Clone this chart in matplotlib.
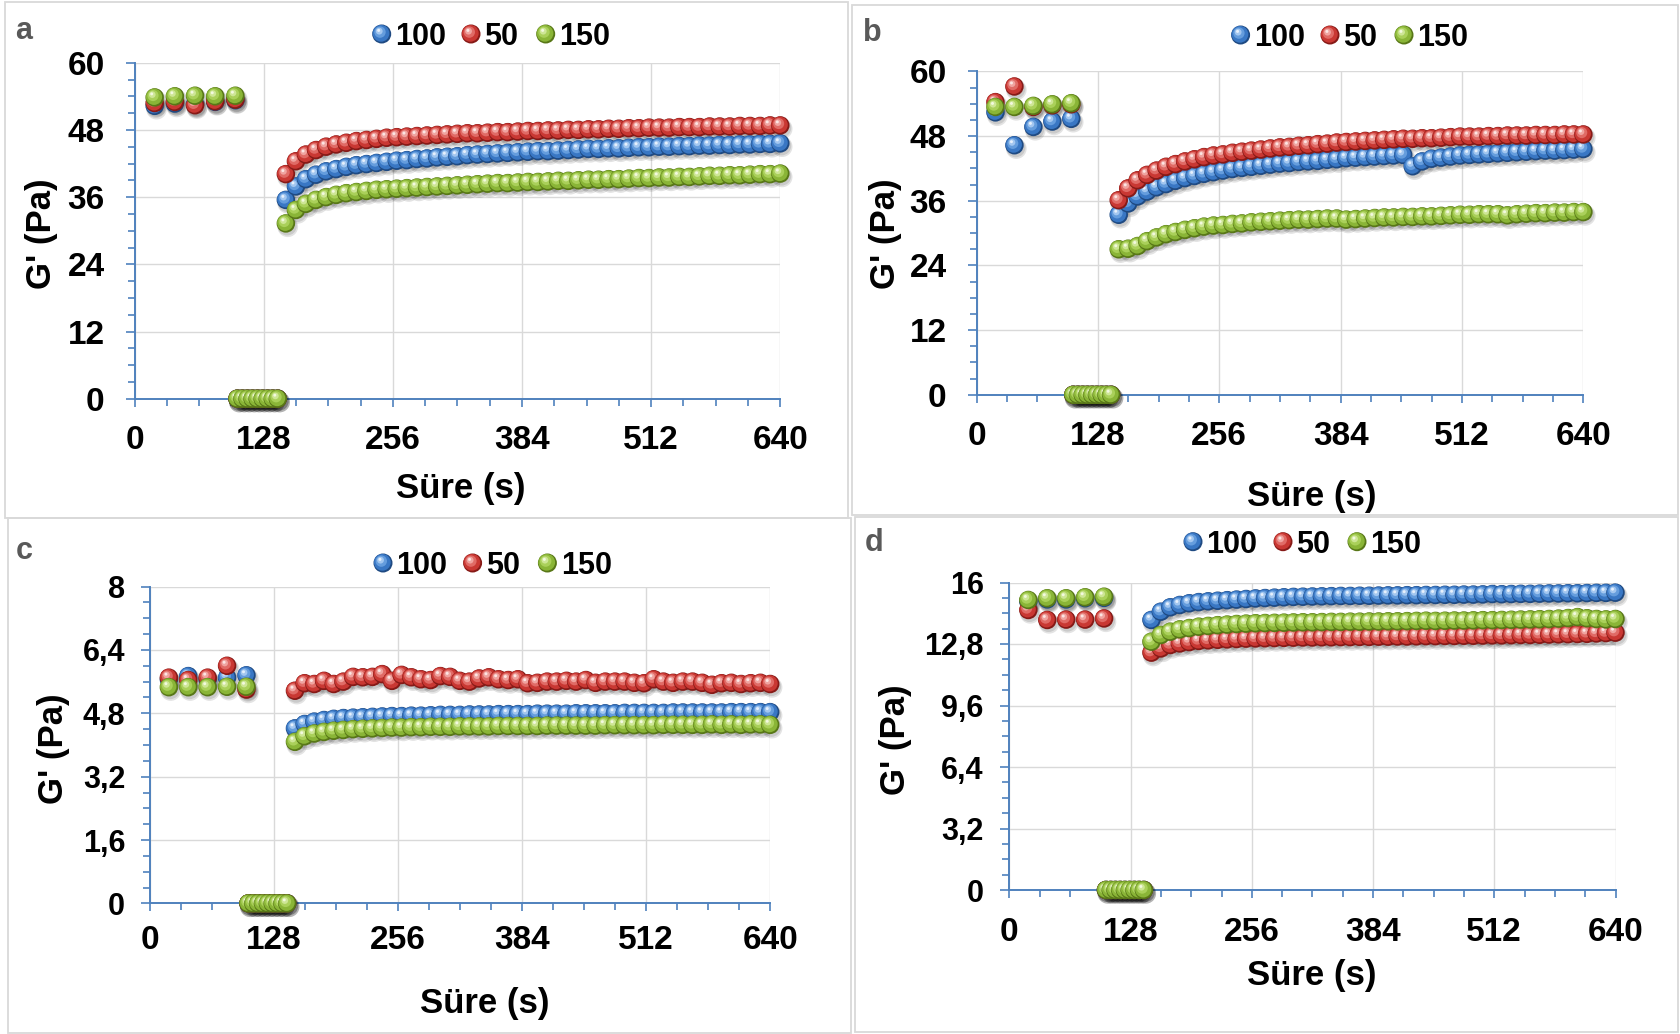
import numpy as np
import matplotlib
matplotlib.use("Agg")
import matplotlib.pyplot as plt
from matplotlib.path import Path
from matplotlib.patches import Rectangle
from matplotlib.ticker import MultipleLocator, FuncFormatter

plt.rcParams['font.family'] = ['Liberation Sans', 'DejaVu Sans']
plt.rcParams['font.weight'] = 'bold'

W, H = 1680, 1034

# ---- sampling times (s) ----
t_rest = [20, 40, 60, 80, 100]
t_shear = [102, 107, 112, 117, 122, 127, 132, 137, 142]
t_recovery = [150, 160, 170, 180, 190, 200, 210, 220, 230, 240,
              250, 260, 270, 280, 290, 300, 310, 320, 330, 340,
              350, 360, 370, 380, 390, 400, 410, 420, 430, 440,
              450, 460, 470, 480, 490, 500, 510, 520, 530, 540,
              550, 560, 570, 580, 590, 600, 610, 620, 630, 640]

series_names = ['100', '50', '150']
shear_G = [0, 0, 0, 0, 0, 0, 0, 0, 0]

# ---- panel a ----
a_rest_100 = [52.3, 52.7, 52.6, 53.0, 53.3]
a_rest_50 = [52.8, 53.0, 52.4, 53.1, 53.4]
a_rest_150 = [53.8, 54.0, 54.1, 54.0, 54.1]
a_rec_100 = [35.5, 37.9, 39.2, 40.0, 40.6, 41.0, 41.4, 41.7, 41.9, 42.1,
             42.3, 42.5, 42.6, 42.8, 42.9, 43.1, 43.2, 43.3, 43.5, 43.6,
             43.7, 43.8, 43.9, 44.0, 44.1, 44.2, 44.2, 44.3, 44.4, 44.5,
             44.6, 44.6, 44.7, 44.7, 44.8, 44.9, 44.9, 45.0, 45.0, 45.1,
             45.1, 45.2, 45.2, 45.3, 45.3, 45.4, 45.4, 45.5, 45.5, 45.6]
a_rec_50 = [40.1, 42.4, 43.6, 44.4, 45.0, 45.4, 45.7, 46.0, 46.2, 46.4,
            46.6, 46.7, 46.8, 46.9, 47.0, 47.1, 47.2, 47.3, 47.4, 47.4,
            47.5, 47.6, 47.6, 47.7, 47.8, 47.8, 47.9, 47.9, 48.0, 48.0,
            48.1, 48.1, 48.2, 48.2, 48.3, 48.3, 48.4, 48.4, 48.4, 48.5,
            48.5, 48.5, 48.6, 48.6, 48.6, 48.7, 48.7, 48.7, 48.8, 48.8]
a_rec_150 = [31.3, 33.7, 34.8, 35.5, 36.0, 36.4, 36.7, 36.9, 37.1, 37.3,
             37.4, 37.5, 37.6, 37.7, 37.8, 37.9, 38.0, 38.1, 38.2, 38.3,
             38.4, 38.5, 38.5, 38.6, 38.7, 38.7, 38.8, 38.9, 38.9, 39.0,
             39.1, 39.1, 39.2, 39.2, 39.3, 39.4, 39.4, 39.5, 39.5, 39.6,
             39.6, 39.7, 39.8, 39.8, 39.9, 39.9, 40.0, 40.1, 40.1, 40.2]

# ---- panel b ----
b_rest_100 = [52.4, 46.3, 49.7, 50.7, 51.2]
b_rest_50 = [54.3, 57.2, 53.4, 53.7, 53.9]
b_rest_150 = [53.4, 53.4, 53.6, 53.9, 54.1]
b_rec_100 = [33.4, 35.5, 36.8, 37.7, 38.5, 39.1, 39.7, 40.2, 40.6, 41.0,
             41.3, 41.6, 41.9, 42.1, 42.3, 42.5, 42.7, 42.9, 43.0, 43.2,
             43.3, 43.4, 43.6, 43.7, 43.9, 44.0, 44.1, 44.2, 44.3, 44.4,
             44.5, 42.4, 43.3, 43.8, 44.0, 44.2, 44.4, 44.5, 44.6, 44.7,
             44.8, 44.9, 45.0, 45.1, 45.2, 45.3, 45.3, 45.4, 45.5, 45.6]
b_rec_50 = [36.1, 38.3, 39.8, 40.8, 41.6, 42.3, 42.8, 43.3, 43.7, 44.1,
            44.4, 44.6, 44.9, 45.1, 45.3, 45.5, 45.7, 45.9, 46.0, 46.2,
            46.3, 46.5, 46.6, 46.8, 46.9, 47.0, 47.1, 47.2, 47.3, 47.4,
            47.5, 47.5, 47.6, 47.6, 47.7, 47.8, 47.9, 47.9, 47.9, 48.0,
            48.0, 48.1, 48.1, 48.1, 48.2, 48.2, 48.2, 48.3, 48.3, 48.3]
b_rec_150 = [27.0, 27.1, 27.6, 28.5, 29.2, 29.8, 30.2, 30.6, 30.9, 31.2,
             31.4, 31.5, 31.7, 31.8, 32.0, 32.1, 32.2, 32.3, 32.4, 32.5,
             32.5, 32.6, 32.7, 32.7, 32.5, 32.6, 32.7, 32.8, 32.9, 32.9,
             33.0, 33.0, 33.1, 33.1, 33.2, 33.3, 33.4, 33.4, 33.5, 33.5,
             33.5, 33.3, 33.5, 33.6, 33.7, 33.7, 33.8, 33.8, 33.9, 33.9]

# ---- panel c ----
c_rest_100 = [5.66, 5.74, 5.66, 5.70, 5.76]
c_rest_50 = [5.70, 5.64, 5.70, 6.00, 5.40]
c_rest_150 = [5.46, 5.46, 5.46, 5.47, 5.47]
c_rec_100 = [4.42, 4.53, 4.59, 4.63, 4.66, 4.68, 4.69, 4.70, 4.71, 4.72,
             4.73, 4.73, 4.74, 4.74, 4.75, 4.76, 4.76, 4.76, 4.77, 4.77,
             4.77, 4.78, 4.78, 4.78, 4.78, 4.79, 4.79, 4.79, 4.79, 4.80,
             4.80, 4.80, 4.80, 4.80, 4.81, 4.81, 4.81, 4.81, 4.81, 4.82,
             4.82, 4.82, 4.82, 4.82, 4.82, 4.83, 4.83, 4.83, 4.83, 4.83]
c_rec_50 = [5.37, 5.56, 5.54, 5.62, 5.54, 5.60, 5.72, 5.71, 5.72, 5.79,
            5.62, 5.77, 5.71, 5.66, 5.64, 5.74, 5.72, 5.62, 5.60, 5.68,
            5.71, 5.66, 5.64, 5.66, 5.56, 5.57, 5.60, 5.60, 5.62, 5.60,
            5.64, 5.57, 5.60, 5.60, 5.60, 5.57, 5.56, 5.66, 5.60, 5.57,
            5.60, 5.60, 5.57, 5.52, 5.56, 5.57, 5.54, 5.56, 5.57, 5.54]
c_rec_150 = [4.08, 4.22, 4.29, 4.33, 4.36, 4.38, 4.40, 4.41, 4.42, 4.43,
             4.44, 4.44, 4.45, 4.45, 4.46, 4.46, 4.46, 4.47, 4.47, 4.47,
             4.47, 4.48, 4.48, 4.48, 4.48, 4.48, 4.49, 4.49, 4.49, 4.49,
             4.49, 4.49, 4.50, 4.50, 4.50, 4.50, 4.50, 4.50, 4.51, 4.51,
             4.51, 4.51, 4.51, 4.52, 4.51, 4.52, 4.51, 4.52, 4.52, 4.51]

# ---- panel d ----
d_rest_100 = [15.02, 15.12, 15.12, 15.18, 15.20]
d_rest_50 = [14.57, 14.05, 14.07, 14.07, 14.13]
d_rest_150 = [15.09, 15.18, 15.18, 15.23, 15.26]
d_rec_100 = [14.05, 14.48, 14.71, 14.83, 14.92, 14.98, 15.02, 15.05, 15.08, 15.11,
             15.14, 15.17, 15.19, 15.21, 15.23, 15.25, 15.26, 15.27, 15.28, 15.29,
             15.30, 15.30, 15.31, 15.31, 15.32, 15.33, 15.33, 15.34, 15.34, 15.35,
             15.35, 15.36, 15.36, 15.37, 15.37, 15.38, 15.40, 15.39, 15.40, 15.41,
             15.41, 15.42, 15.43, 15.43, 15.44, 15.44, 15.45, 15.46, 15.46, 15.47]
d_rec_50 = [12.35, 12.57, 12.75, 12.83, 12.90, 12.96, 12.99, 13.02, 13.04, 13.06,
            13.08, 13.09, 13.10, 13.11, 13.12, 13.13, 13.14, 13.14, 13.15, 13.15,
            13.16, 13.16, 13.17, 13.17, 13.18, 13.18, 13.19, 13.19, 13.20, 13.21,
            13.21, 13.22, 13.22, 13.23, 13.23, 13.24, 13.25, 13.25, 13.26, 13.27,
            13.27, 13.28, 13.29, 13.30, 13.31, 13.32, 13.33, 13.35, 13.37, 13.39]
d_rec_150 = [12.92, 13.27, 13.44, 13.56, 13.63, 13.70, 13.74, 13.78, 13.81, 13.84,
             13.86, 13.88, 13.89, 13.90, 13.91, 13.92, 13.93, 13.93, 13.94, 13.95,
             13.95, 13.96, 13.96, 13.97, 13.97, 13.98, 13.98, 13.99, 14.00, 14.01,
             14.00, 14.01, 14.02, 14.02, 14.03, 14.04, 14.04, 14.05, 14.06, 14.07,
             14.08, 14.09, 14.10, 14.12, 14.15, 14.20, 14.14, 14.10, 14.08, 14.10]

# ---- styling ----
AXIS_BLUE = '#4F81BD'
GRID_GRAY = '#D9D9D9'
# rim, body, light, lighter, specular
SHADES = {
    '100': ['#1F4A82', '#3977C4', '#659DDD', '#A3C7F0', '#E6F0FC'],
    '50': ['#861A17', '#C93833', '#E06B66', '#F0A4A0', '#FCE5E3'],
    '150': ['#587717', '#8AB537', '#AAD05A', '#CEE696', '#F2F9DF'],
}


def circle_path(cx, cy, r):
    c = Path.unit_circle()
    return Path(c.vertices * r + np.array([cx, cy]), c.codes)


BALL_PATHS = [circle_path(0.0, 0.0, 0.5),
              circle_path(-0.035, 0.035, 0.44),
              circle_path(-0.09, 0.10, 0.30),
              circle_path(-0.13, 0.15, 0.18),
              circle_path(-0.16, 0.19, 0.08)]
SHADOW_PATHS = [circle_path(0.10, -0.18, 0.56),
                circle_path(0.07, -0.13, 0.52)]


def draw_balls(ax, x, y, shades, size, zorder, shadow=True):
    x = np.asarray(x, dtype=float)
    y = np.asarray(y, dtype=float)
    n = len(x)
    if shadow:
        ks = len(SHADOW_PATHS)
        sh = ax.scatter(np.repeat(x, ks), np.repeat(y, ks), s=size,
                        c=[(0, 0, 0, 0.11)] * (n * ks), linewidths=0,
                        clip_on=False, zorder=2.9)
        sh.set_paths(SHADOW_PATHS)
    k = len(BALL_PATHS)
    sc = ax.scatter(np.repeat(x, k), np.repeat(y, k), s=size,
                    c=list(shades) * n, linewidths=0, clip_on=False,
                    zorder=zorder)
    sc.set_paths(BALL_PATHS)
    return sc


fig = plt.figure(figsize=(W / 100, H / 100), dpi=100)

# overlay in figure pixel coordinates for frames, panel letters, legends
ov = fig.add_axes([0, 0, 1, 1], zorder=0)
ov.set_xlim(0, W)
ov.set_ylim(H, 0)
ov.axis('off')

frames = [(5, 2, 843, 516), (852, 5, 826, 510), (8, 518, 843, 515), (855, 517, 823, 515)]
for fx, fy, fw, fh in frames:
    ov.add_patch(Rectangle((fx, fy), fw, fh, fill=False, ec=GRID_GRAY, lw=1.3))

panels = [
    dict(letter='a', letter_xy=(24, 31),
         box=(134.5, 780.3, 62.7, 398.7), ymax=60, ymaj=12, ymin=3, comma=False,
         rest=(a_rest_100, a_rest_50, a_rest_150), rec=(a_rec_100, a_rec_50, a_rec_150),
         xlab=(460.7, 488.6), ylab=(42, 234), xpad=13, ypad=15, ysize=24,
         leg_y=34, leg_x=(381.7, 471, 545.7)),
    dict(letter='b', letter_xy=(872, 33),
         box=(976.5, 1583.4, 71.4, 394.8), ymax=60, ymaj=12, ymin=3, comma=False,
         rest=(b_rest_100, b_rest_50, b_rest_150), rec=(b_rec_100, b_rec_50, b_rec_150),
         xlab=(1311.5, 496), ylab=(885, 234), xpad=13, ypad=15, ysize=24,
         leg_y=35, leg_x=(1240.6, 1330, 1404)),
    dict(letter='c', letter_xy=(24.5, 551),
         box=(149.5, 770.2, 586.6, 903.4), ymax=8, ymaj=1.6, ymin=0.4, comma=True,
         rest=(c_rest_100, c_rest_50, c_rest_150), rec=(c_rec_100, c_rec_50, c_rec_150),
         xlab=(484.3, 1003.5), ylab=(54, 749), xpad=9.5, ypad=11, ysize=22,
         leg_y=563, leg_x=(383, 472.6, 547.4)),
    dict(letter='d', letter_xy=(874, 543),
         box=(1009.4, 1615.5, 582.5, 890.0), ymax=16, ymaj=3.2, ymin=0.8, comma=True,
         rest=(d_rest_100, d_rest_50, d_rest_150), rec=(d_rec_100, d_rec_50, d_rec_150),
         xlab=(1312, 975), ylab=(895, 740), xpad=13.5, ypad=12, ysize=22,
         leg_y=541.7, leg_x=(1193, 1283, 1357)),
]

BALL_S = (18.5 * 0.72) ** 2
LEG_S = (19 * 0.72) ** 2
LEG_FS = 22
LEG_EM = LEG_FS / 0.72
LABEL_FS = 25

for p in panels:
    x0, x1, ytop, y0 = p['box']
    ax = fig.add_axes([x0 / W, 1 - y0 / H, (x1 - x0) / W, (y0 - ytop) / H])
    ax.set_xlim(0, 640)
    ax.set_ylim(0, p['ymax'])
    ax.xaxis.set_major_locator(MultipleLocator(128))
    ax.xaxis.set_minor_locator(MultipleLocator(32))
    ax.yaxis.set_major_locator(MultipleLocator(p['ymaj']))
    ax.yaxis.set_minor_locator(MultipleLocator(p['ymin']))
    if p['comma']:
        ax.yaxis.set_major_formatter(FuncFormatter(lambda v, pos: f'{v:g}'.replace('.', ',')))
    else:
        ax.yaxis.set_major_formatter(FuncFormatter(lambda v, pos: f'{v:g}'))
    ax.xaxis.set_major_formatter(FuncFormatter(lambda v, pos: f'{v:g}'))

    for side in ('top', 'right'):
        ax.spines[side].set_visible(False)
    for side in ('left', 'bottom'):
        ax.spines[side].set_color(AXIS_BLUE)
        ax.spines[side].set_linewidth(1.4)
    ax.tick_params(which='both', direction='out', color=AXIS_BLUE, width=1.2)
    ax.tick_params(axis='x', which='major', length=6, pad=p['xpad'], labelsize=24)
    ax.tick_params(axis='x', which='minor', length=5)
    ax.tick_params(axis='y', which='major', length=6.5, pad=p['ypad'], labelsize=p['ysize'])
    ax.tick_params(axis='y', which='minor', length=5)
    ax.grid(True, which='major', color=GRID_GRAY, lw=1.0)
    ax.set_axisbelow(True)
    ax.patch.set_alpha(0)

    ax.set_xlabel('Süre (s)', fontsize=LABEL_FS, fontweight='bold', va='center')
    ax.set_ylabel("G' (Pa)", fontsize=LABEL_FS, fontweight='bold', va='center')
    lx, ly = p['xlab']
    ax.xaxis.set_label_coords((lx - x0) / (x1 - x0), (y0 - ly) / (y0 - ytop))
    gx, gy = p['ylab']
    ax.yaxis.set_label_coords((gx - x0) / (x1 - x0), (y0 - gy) / (y0 - ytop))

    for i, name in enumerate(series_names):
        xs = t_rest + t_shear + t_recovery
        ys = list(p['rest'][i]) + shear_G + list(p['rec'][i])
        draw_balls(ax, xs, ys, SHADES[name], BALL_S, zorder=3 + 0.1 * i)

    # panel letter
    lx, ly = p['letter_xy']
    ov.text(lx, ly + 0.26 * 31, p['letter'], color='#595959', fontsize=22,
            fontweight='bold', ha='center', va='baseline')

    # legend
    for i, name in enumerate(series_names):
        bx = p['leg_x'][i]
        draw_balls(ov, [bx], [p['leg_y']], SHADES[name], LEG_S, zorder=3, shadow=False)
        ov.text(bx + 13.5, p['leg_y'] + 0.358 * LEG_EM, name, fontsize=LEG_FS,
                fontweight='bold', color='black', ha='left', va='baseline')

fig.savefig('out.png', dpi=100)
